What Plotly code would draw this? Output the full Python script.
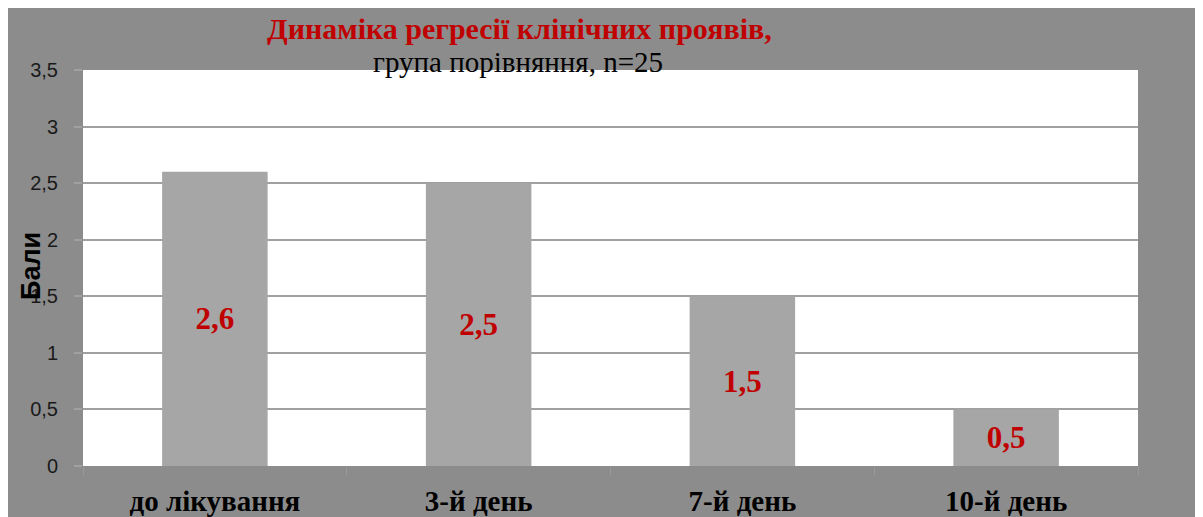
import plotly.graph_objects as go

categories = ["до лікування", "3-й день", "7-й день", "10-й день"]
values = [2.6, 2.5, 1.5, 0.5]
y_ticks = [0, 0.5, 1, 1.5, 2, 2.5, 3, 3.5]
title_text = "Динаміка регресії клінічних проявів,"
subtitle_text = "група порівняння, n=25"
y_title = "Бали"

OFF = 8  # page body margin
W, H = 1203 - OFF, 517 - OFF
L, T = 83 - OFF, 70 - OFF
R, B = 65, 51
pw, ph = W - L - R, H - T - B


def px_x(x):
    return (x - OFF - L) / pw


def px_y(y):
    return (T + ph - (y - OFF)) / ph


fig = go.Figure()
fig.add_trace(go.Bar(
    x=categories, y=values, width=0.4,
    marker=dict(color="#a6a6a6", line=dict(width=0)),
    texttemplate="%{y:.1f}", textposition="inside", insidetextanchor="middle",
    textangle=0,
    textfont=dict(family="Liberation Serif", size=31, color="#c00000", weight="bold"),
    hoverinfo="skip",
))

fig.update_layout(
    width=W, height=H,
    margin=dict(l=L, r=R, t=T, b=B, autoexpand=False),
    paper_bgcolor="#8c8c8c",
    plot_bgcolor="#ffffff",
    separators=", ",
    showlegend=False,
    annotations=[
        dict(text="<b>" + title_text + "</b>", xref="paper", yref="paper",
             x=px_x(519), y=px_y(28), xanchor="center", yanchor="middle",
             showarrow=False,
             font=dict(family="Liberation Serif", size=30, color="#c00000")),
        dict(text=subtitle_text, xref="paper", yref="paper",
             x=px_x(518), y=px_y(62), xanchor="center", yanchor="middle",
             showarrow=False,
             font=dict(family="Liberation Serif", size=29, color="#000000")),
        dict(text="<b>" + y_title + "</b>", xref="paper", yref="paper",
             x=px_x(31), y=px_y(266), xanchor="center", yanchor="middle",
             textangle=-90, showarrow=False,
             font=dict(family="Liberation Sans", size=27, color="#000000")),
    ],
)

fig.update_yaxes(
    range=[0, 3.5], tickvals=y_ticks, automargin=False,
    showgrid=True, gridcolor="#a0a0a0", gridwidth=2,
    ticks="outside", ticklen=8, tickcolor="#a0a0a0", tickwidth=2,
    ticklabelstandoff=12,
    tickfont=dict(family="Liberation Sans", size=20, color="#1a1a1a"),
    showline=False, zeroline=False,
)
fig.update_xaxes(
    tickson="boundaries", ticks="outside", ticklen=8, tickcolor="#9a9a9a", tickwidth=1,
    ticklabelstandoff=15, automargin=False,
    tickfont=dict(family="Liberation Serif", size=29, color="#000000", weight="bold"),
    showgrid=False, showline=False, zeroline=False,
)

fig.write_html("out.html")
